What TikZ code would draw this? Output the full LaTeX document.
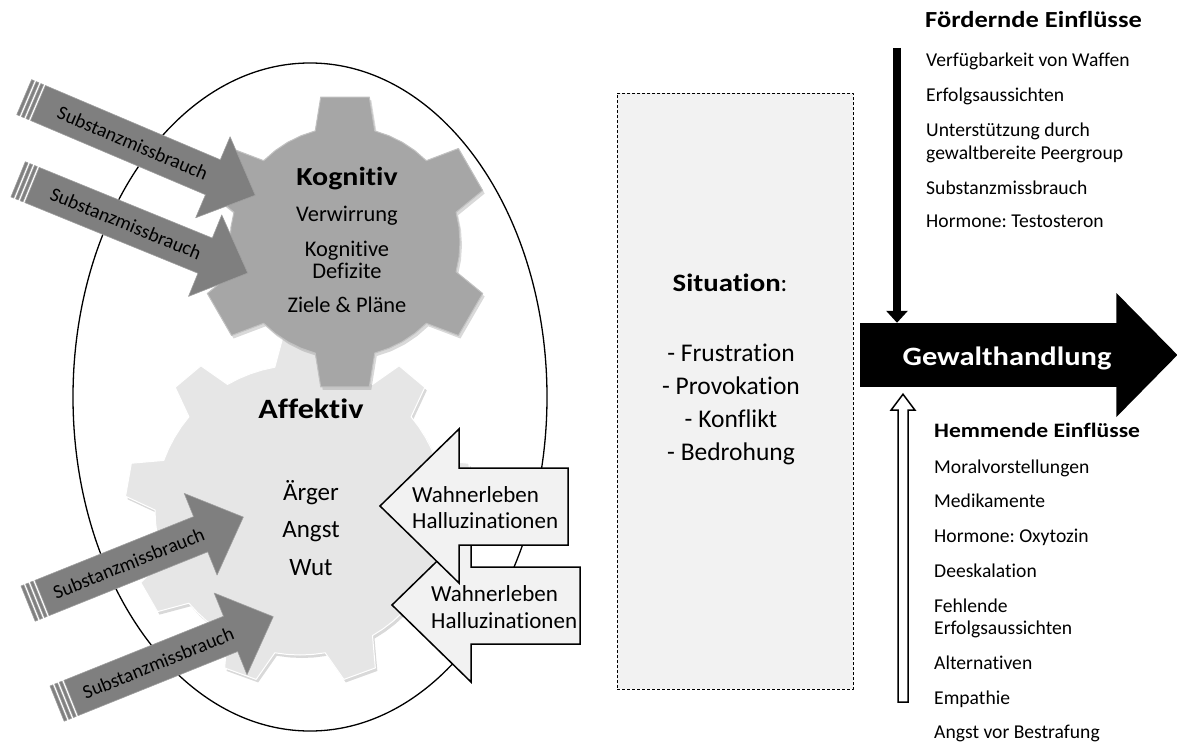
\documentclass[tikz,border=0pt]{standalone}
\usepackage{fontspec}
\setmainfont{Carlito}[Ligatures=NoCommon, BoldFeatures={FakeStretch=1.15}]
\frenchspacing
\usetikzlibrary{calc,arrows.meta,shadows}

\definecolor{kogfill}{HTML}{A6A6A6}
\definecolor{afffill}{HTML}{E6E6E6}
\definecolor{subfill}{HTML}{7F7F7F}
\definecolor{boxfill}{HTML}{F2F2F2}

\newcommand\fsz[1]{\fontsize{#1}{#1}\selectfont}

% teeth, first angle, body radius, tip radius, half base angle, half tip angle
\newcommand\gearpath[6]{({#2-#5}:#3)
  \foreach \k [evaluate=\k as \a using #2+360/#1*(\k-1)] in {1,...,#1}{
    -- ({\a-#5}:#3) -- ({\a-#6}:#4) -- ({\a+#6}:#4) -- ({\a+#5}:#3)
    \foreach \j in {1,2,3}{ -- ({\a+#5+(360/#1-2*#5)*\j/4}:#3) }
  } -- cycle}

% name, tail, angle, length
\newcommand\subarrow[4]{%
  \begin{scope}[shift={#2}, rotate=#3]
    \path[subarr] (0,-19) -- ({#4-46},-19) -- ({#4-46},-44) -- (#4,0)
      -- ({#4-46},44) -- ({#4-46},19) -- (0,19) -- cycle;
    \foreach \s in {2,7,12}
      \path[subarr] (-\s,-19) rectangle ({-\s-3},19);
    \node[subtxt, rotate=#3] (#1) at ({(#4-46)/2+8},0) {Substanzmissbrauch};
  \end{scope}}

\newcommand\wahnarrow[1]{\path[wahn] #1 -- ++(79,-77) -- ++(0,39) -- ++(109,0)
  -- ++(0,77) -- ++(-109,0) -- ++(0,38) -- cycle;}

\tikzset{
  gear/.style={drop shadow={opacity=.3, shadow xshift=2pt, shadow yshift=-3pt}},
  kog/.style={gear, fill=kogfill, draw=kogfill!70!white, line width=1pt},
  aff/.style={gear, fill=afffill, draw=white, line width=1pt},
  gtitle/.style={font=\fsz{26}\bfseries, inner sep=0pt, anchor=base},
  gtxt/.style={font=\fsz{22.4}, inner sep=0pt, anchor=base},
  atxt/.style={font=\fsz{25}, inner sep=0pt, anchor=base},
  subarr/.style={fill=subfill, draw=subfill!75!white, line width=.6pt},
  subtxt/.style={font=\fsz{19.6}, inner sep=0pt},
  wahn/.style={fill=boxfill, draw=black, line width=1.5pt, line join=miter},
  wtxt/.style={font=\fsz{23}, inner sep=0pt, anchor=base west},
  sitbox/.style={draw, dash pattern=on 3pt off 2pt, fill=boxfill, line width=.8pt},
  stxt/.style={font=\fsz{25.5}, inner sep=0pt, anchor=base},
  ftxt/.style={font=\fsz{19.6}, inner sep=0pt, anchor=base west},
  fhead/.style={font=\fsz{23}\bfseries, inner sep=0pt, anchor=base west},
  fordarrow/.style={line width=8pt, -{Triangle[width=21pt,length=12pt]}},
  hemmarrow/.style={draw=black, fill=white, line width=1.5pt, line join=miter},
}

\begin{document}
\begin{tikzpicture}[x=1pt, y=-1pt, line join=round]
  \useasboundingbox (0,0) rectangle (1177,743);
  \draw[line width=1.3pt] (310,397) ellipse [x radius=237pt, y radius=334pt];

  % Zahnraeder
  \begin{scope}[shift={(300,510)}]
    \path[aff] \gearpath{9}{-90}{145}{175}{10}{5.5};
  \end{scope}
  \begin{scope}[shift={(345,242)}]
    \path[kog] \gearpath{6}{-90}{115}{147}{15}{9.5};
  \end{scope}

  \node[gtitle] (kog) at (347,186) {Kognitiv};
  \node[gtxt] (kog1) at (347,222) {Verwirrung};
  \node[gtxt] (kog2) at (347,257) {Kognitive};
  \node[gtxt] (kog3) at (347,278) {Defizite};
  \node[gtxt] (kog4) at (347,312) {Ziele \& Pläne};
  \node[gtitle, font=\fsz{28}\bfseries] (aff) at (311,418) {Affektiv};
  \node[atxt] (aff1) at (311,500) {Ärger};
  \node[atxt] (aff2) at (311,537) {Angst};
  \node[atxt] (aff3) at (311,575) {Wut};

  \subarrow{sub1}{(38,103)}{-23}{236}
  \subarrow{sub2}{(32,185)}{-22.2}{233}
  \subarrow{sub3}{(42,598)}{21.9}{217}
  \subarrow{sub4}{(71,698)}{21.9}{218}

  \coordinate (wahnB) at (392,605);
  \coordinate (wahnA) at (380,506);
  \wahnarrow{(wahnB)}
  \node[wtxt] (wB1) at (431,601) {Wahnerleben};
  \node[wtxt] (wB2) at (431,628) {Halluzinationen};
  \wahnarrow{(wahnA)}
  \node[wtxt] (wA1) at (412,502) {Wahnerleben};
  \node[wtxt] (wA2) at (412,528) {Halluzinationen};

  % Situation
  \node[sitbox, minimum width=236pt, minimum height=596pt, anchor=north west, inner sep=0pt] (sit) at (617,93) {};
  \node[stxt, font=\fsz{25}] (sittitle) at (730,291) {\textbf{Situation}:};
  \foreach \yy/\t [count=\i] in {361/Frustration, 394/Provokation, 427/Konflikt, 460/Bedrohung}
    \node[stxt] (sit\i) at (731,\yy) {- \t};

  % Gewalthandlung
  \node[fill=black, minimum width=257pt, minimum height=64pt, inner sep=0pt, anchor=west] (gewalt) at (860,355) {};
  \fill (gewalt.east) ++(-1,-62) -- ++(61,62) -- ++(-61,62) -- cycle;
  \node[font=\fsz{26.5}\bfseries, text=white, inner sep=0pt, anchor=base] (gwtext) at (1007,365) {Gewalthandlung};

  \coordinate (fstart) at (897,48);
  \draw[fordarrow] (fstart) -- (gewalt.north -| fstart);
  \coordinate (hstart) at (903,702);
  \coordinate (htip) at ($(gewalt.south -| hstart)+(0,7)$);
  \path[hemmarrow] (htip) -- ++(12,16) -- ++(-7,0) -- ++(0,292) -- ++(-10,0) -- ++(0,-292) -- ++(-7,0) -- cycle;

  \node[fhead] (ford-head) at (925,28) {Fördernde Einflüsse};
  \foreach \yy/\t [count=\i] in {67/Verfügbarkeit von Waffen, 102/Erfolgsaussichten, 137/Unterstützung durch,
      160/gewaltbereite Peergroup, 195/Substanzmissbrauch, 228/Hormone: Testosteron}
    \node[ftxt] (ford\i) at (926,\yy) {\t};

  \node[fhead, font=\fsz{20.5}\bfseries] (hemm-head) at (934,437) {Hemmende Einflüsse};
  \foreach \yy/\t [count=\i] in {473/Moralvorstellungen, 507/Medikamente, 542/Hormone: Oxytozin, 577/Deeskalation,
      612/Fehlende, 634/Erfolgsaussichten, 669/Alternativen, 704/Empathie, 738/Angst vor Bestrafung}
    \node[ftxt] (hemm\i) at (934,\yy) {\t};
\end{tikzpicture}
\end{document}
